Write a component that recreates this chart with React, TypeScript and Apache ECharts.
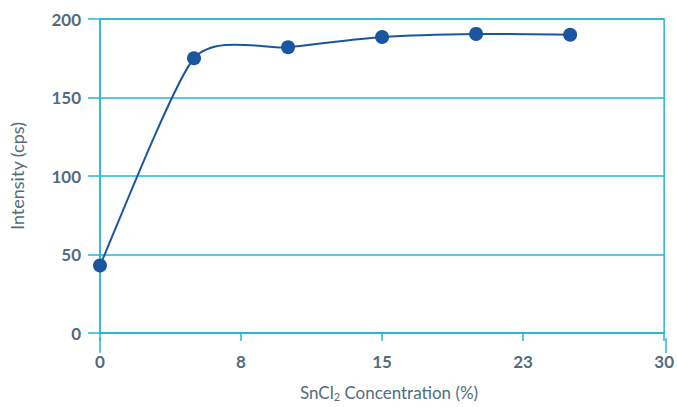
import React, { useEffect, useRef } from "react";
import * as echarts from "echarts";

const concentration = [0, 5, 10, 15, 20, 25];
const intensity = [43, 175, 182, 188.5, 190.5, 190];
const xTicks = [0, 7.5, 15, 22.5, 30];
const yTicks = [0, 50, 100, 150, 200];

const CYAN = "#29b4d6";
const TEXT = "#526c7e";
const BLUE = "#1a56a0";
const FONT = "Lato, 'Open Sans', sans-serif";
const TENSION = 0.11;

export default function App() {
  const ref = useRef<HTMLDivElement>(null);
  useEffect(() => {
    if (!ref.current) return;
    const chart = echarts.init(ref.current, undefined, { renderer: "svg" });
    const points = concentration.map((c, i) => [c, intensity[i]]);
    chart.setOption({
      animation: false,
      backgroundColor: "#ffffff",
      grid: {
        left: 100,
        right: 11,
        top: 19,
        height: 319,
        show: true,
        borderColor: CYAN,
        borderWidth: 1.5,
      },
      graphic: [
        { type: "line", shape: { x1: 100, y1: 338, x2: 100, y2: 353 }, style: { stroke: CYAN, lineWidth: 1.5 } },
        { type: "line", shape: { x1: 666, y1: 338, x2: 666, y2: 353 }, style: { stroke: CYAN, lineWidth: 1.5 } },
      ],
      xAxis: {
        type: "value",
        min: xTicks[0],
        max: xTicks[xTicks.length - 1],
        interval: xTicks[1] - xTicks[0],
        name: "SnCl{sub|2} Concentration (%)",
        nameLocation: "middle",
        nameGap: 49,
        nameTextStyle: {
          color: TEXT,
          fontSize: 17,
          fontFamily: FONT,
          padding: [0, 0, 0, 14],
          rich: {
            sub: { fontSize: 11, color: TEXT, fontFamily: FONT, verticalAlign: "bottom", padding: [9, 0, 0, 0] },
          },
        },
        axisLine: { show: true, lineStyle: { color: CYAN, width: 1.5 } },
        axisTick: { show: true, length: 8, lineStyle: { color: CYAN, width: 1.5 } },
        axisLabel: {
          color: TEXT,
          fontSize: 17,
          fontWeight: "bold",
          fontFamily: FONT,
          margin: 20,
          formatter: (v: number) => String(Math.round(v)),
        },
        splitLine: { show: false },
      },
      yAxis: {
        type: "value",
        min: yTicks[0],
        max: yTicks[yTicks.length - 1],
        interval: yTicks[1] - yTicks[0],
        name: "Intensity (cps)",
        nameLocation: "middle",
        nameGap: 74,
        nameTextStyle: { color: TEXT, fontSize: 18, fontFamily: FONT },
        axisLine: { show: true, lineStyle: { color: CYAN, width: 1.5 } },
        axisTick: { show: true, length: 12, lineStyle: { color: CYAN, width: 1.5 } },
        axisLabel: {
          color: TEXT,
          fontSize: 17,
          fontWeight: "bold",
          fontFamily: FONT,
          margin: 19,
        },
        splitLine: { show: true, lineStyle: { color: CYAN, width: 1.5 } },
      },
      series: [
        {
          type: "custom",
          data: points,
          z: 2,
          renderItem: (params: any, api: any) => {
            const i = params.dataIndex;
            const n = points.length;
            if (i >= n - 1) return null;
            const P = (j: number) => api.coord(points[Math.max(0, Math.min(n - 1, j))]);
            const p0 = P(i - 1);
            const p1 = P(i);
            const p2 = P(i + 1);
            const p3 = P(i + 2);
            return {
              type: "bezierCurve",
              shape: {
                x1: p1[0],
                y1: p1[1],
                x2: p2[0],
                y2: p2[1],
                cpx1: p1[0] + (p2[0] - p0[0]) * TENSION,
                cpy1: p1[1] + (p2[1] - p0[1]) * TENSION,
                cpx2: p2[0] - (p3[0] - p1[0]) * TENSION,
                cpy2: p2[1] - (p3[1] - p1[1]) * TENSION,
              },
              style: { stroke: BLUE, lineWidth: 2, fill: null },
            };
          },
        },
        {
          type: "scatter",
          data: points,
          z: 3,
          symbol: "circle",
          symbolSize: 14,
          itemStyle: { color: BLUE, opacity: 1 },
        },
      ],
    });
    return () => chart.dispose();
  }, []);
  return <div ref={ref} style={{ position: "fixed", left: 0, top: 0, width: 677, height: 407 }} />;
}
